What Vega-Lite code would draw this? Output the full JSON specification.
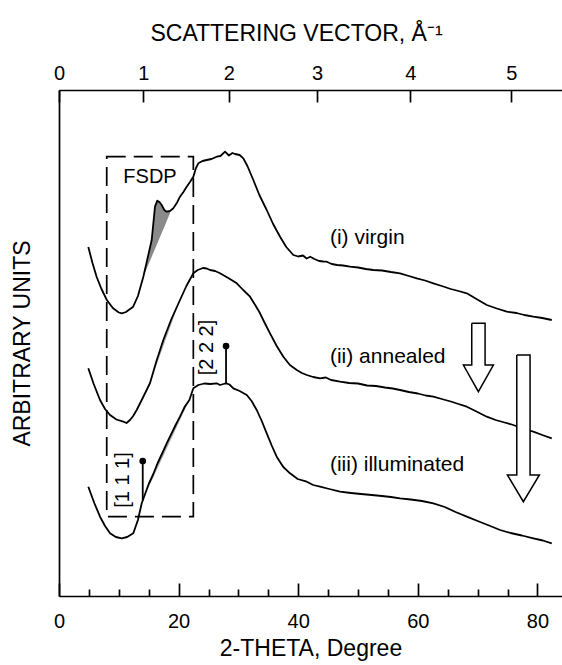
{
  "$schema": "https://vega.github.io/schema/vega-lite/v6.json",
  "width": 503,
  "height": 506,
  "autosize": {"type": "none"},
  "padding": {"left": 59, "top": 90, "right": 0, "bottom": 69},
  "background": "white",
  "config": {
    "view": {"stroke": null},
    "font": "Liberation Sans",
    "axis": {
      "domainColor": "black", "tickColor": "black", "labelColor": "black", "titleColor": "black",
      "labelFont": "Liberation Sans", "titleFont": "Liberation Sans",
      "labelFontSize": 20, "titleFontSize": 23, "titleFontWeight": "normal",
      "grid": false, "domainWidth": 1.7, "tickWidth": 1.7, "labelFlush": false, "labelOverlap": false
    }
  },
  "datasets": {
    "curves": [
      {"s":"i","x":4.9,"y":349},{"s":"i","x":5.6,"y":333},{"s":"i","x":6.3,"y":319},{"s":"i","x":7.1,"y":307},{"s":"i","x":8.0,"y":296},{"s":"i","x":9.0,"y":288},{"s":"i","x":10.0,"y":283.5},{"s":"i","x":10.5,"y":282.7},{"s":"i","x":11.2,"y":284},{"s":"i","x":12.4,"y":289.3},{"s":"i","x":13.2,"y":300},{"s":"i","x":14.1,"y":319.3},{"s":"i","x":14.8,"y":337.6},{"s":"i","x":15.5,"y":356},{"s":"i","x":16.05,"y":389.3},{"s":"i","x":16.44,"y":395.3},{"s":"i","x":16.8,"y":394},{"s":"i","x":17.17,"y":391},{"s":"i","x":17.6,"y":386},{"s":"i","x":18.01,"y":384.3},{"s":"i","x":18.56,"y":385},{"s":"i","x":19.11,"y":387.7},{"s":"i","x":19.7,"y":393},{"s":"i","x":20.23,"y":399.3},{"s":"i","x":20.8,"y":404},{"s":"i","x":21.35,"y":409.3},{"s":"i","x":21.9,"y":414},{"s":"i","x":22.46,"y":419.3},{"s":"i","x":22.9,"y":428},{"s":"i","x":23.29,"y":432.7},{"s":"i","x":24.0,"y":435},{"s":"i","x":24.7,"y":436},{"s":"i","x":25.5,"y":437},{"s":"i","x":26.37,"y":439.3},{"s":"i","x":27.0,"y":440},{"s":"i","x":27.76,"y":444.3},{"s":"i","x":28.4,"y":440.5},{"s":"i","x":29.0,"y":443},{"s":"i","x":29.43,"y":442},{"s":"i","x":30.2,"y":441},{"s":"i","x":30.82,"y":437.7},{"s":"i","x":31.5,"y":430},{"s":"i","x":32.49,"y":416},{"s":"i","x":33.5,"y":401},{"s":"i","x":34.73,"y":386},{"s":"i","x":35.8,"y":372},{"s":"i","x":36.96,"y":359.3},{"s":"i","x":38.0,"y":349},{"s":"i","x":39.18,"y":341},{"s":"i","x":40.0,"y":339.5},{"s":"i","x":40.8,"y":340.5},{"s":"i","x":41.4,"y":337.5},{"s":"i","x":42.0,"y":339.3},{"s":"i","x":42.7,"y":337},{"s":"i","x":43.5,"y":335},{"s":"i","x":44.2,"y":334.5},{"s":"i","x":44.77,"y":334.3},{"s":"i","x":45.6,"y":332},{"s":"i","x":46.5,"y":331},{"s":"i","x":47.5,"y":330.5},{"s":"i","x":48.66,"y":329.3},{"s":"i","x":50.0,"y":328.5},{"s":"i","x":51.3,"y":327},{"s":"i","x":52.56,"y":326},{"s":"i","x":54.0,"y":325.5},{"s":"i","x":55.5,"y":324},{"s":"i","x":57.02,"y":322.7},{"s":"i","x":58.5,"y":320},{"s":"i","x":59.82,"y":317.7},{"s":"i","x":61.2,"y":315.5},{"s":"i","x":62.59,"y":312.7},{"s":"i","x":64.0,"y":310},{"s":"i","x":65.5,"y":307},{"s":"i","x":66.8,"y":305},{"s":"i","x":68.18,"y":302.7},{"s":"i","x":69.8,"y":297},{"s":"i","x":71.52,"y":291},{"s":"i","x":73.2,"y":287.5},{"s":"i","x":74.87,"y":284.3},{"s":"i","x":76.5,"y":283},{"s":"i","x":77.8,"y":281},{"s":"i","x":79.31,"y":279.3},{"s":"i","x":80.8,"y":278},{"s":"i","x":82.39,"y":276},
      {"s":"ii","x":4.9,"y":227.7},{"s":"ii","x":5.8,"y":212},{"s":"ii","x":6.86,"y":196},{"s":"ii","x":7.7,"y":187},{"s":"ii","x":8.53,"y":181},{"s":"ii","x":9.6,"y":176.5},{"s":"ii","x":10.75,"y":174.3},{"s":"ii","x":11.3,"y":173},{"s":"ii","x":11.87,"y":176},{"s":"ii","x":12.4,"y":180},{"s":"ii","x":12.99,"y":186},{"s":"ii","x":14.0,"y":198},{"s":"ii","x":15.22,"y":213},{"s":"ii","x":16.3,"y":235},{"s":"ii","x":17.44,"y":256},{"s":"ii","x":18.8,"y":277},{"s":"ii","x":20.23,"y":296},{"s":"ii","x":21.3,"y":310},{"s":"ii","x":22.46,"y":322.7},{"s":"ii","x":23.2,"y":326},{"s":"ii","x":24.08,"y":328},{"s":"ii","x":24.7,"y":327.5},{"s":"ii","x":25.25,"y":326},{"s":"ii","x":26.1,"y":325},{"s":"ii","x":26.92,"y":322.7},{"s":"ii","x":28.3,"y":318},{"s":"ii","x":29.72,"y":312.7},{"s":"ii","x":30.8,"y":306},{"s":"ii","x":31.94,"y":299.3},{"s":"ii","x":32.8,"y":291},{"s":"ii","x":33.61,"y":282.7},{"s":"ii","x":34.4,"y":273},{"s":"ii","x":35.28,"y":262.7},{"s":"ii","x":36.4,"y":250},{"s":"ii","x":37.51,"y":239.3},{"s":"ii","x":38.6,"y":231},{"s":"ii","x":39.75,"y":226},{"s":"ii","x":40.6,"y":223},{"s":"ii","x":41.42,"y":221},{"s":"ii","x":42.5,"y":219},{"s":"ii","x":43.65,"y":217.7},{"s":"ii","x":44.6,"y":218.5},{"s":"ii","x":45.5,"y":216},{"s":"ii","x":46.99,"y":214.3},{"s":"ii","x":48.5,"y":213},{"s":"ii","x":50.0,"y":212.5},{"s":"ii","x":51.5,"y":210.5},{"s":"ii","x":53.0,"y":210},{"s":"ii","x":54.5,"y":208.5},{"s":"ii","x":55.8,"y":207.5},{"s":"ii","x":57.02,"y":206},{"s":"ii","x":58.5,"y":204},{"s":"ii","x":60.0,"y":202.5},{"s":"ii","x":61.3,"y":200.5},{"s":"ii","x":62.59,"y":199.3},{"s":"ii","x":64.0,"y":197},{"s":"ii","x":65.5,"y":194.5},{"s":"ii","x":66.8,"y":192},{"s":"ii","x":68.18,"y":189.3},{"s":"ii","x":69.8,"y":184.5},{"s":"ii","x":71.52,"y":179.3},{"s":"ii","x":73.0,"y":176},{"s":"ii","x":74.5,"y":173.5},{"s":"ii","x":75.97,"y":171},{"s":"ii","x":77.6,"y":167},{"s":"ii","x":79.31,"y":164.3},{"s":"ii","x":80.8,"y":161},{"s":"ii","x":82.39,"y":157.7},
      {"s":"iii","x":4.9,"y":109.3},{"s":"iii","x":5.9,"y":93},{"s":"iii","x":6.86,"y":79.3},{"s":"iii","x":7.7,"y":70},{"s":"iii","x":8.53,"y":62.7},{"s":"iii","x":9.5,"y":59},{"s":"iii","x":10.49,"y":57.7},{"s":"iii","x":11.4,"y":59},{"s":"iii","x":12.42,"y":62.7},{"s":"iii","x":13.2,"y":76},{"s":"iii","x":13.83,"y":92.7},{"s":"iii","x":14.3,"y":100.5},{"s":"iii","x":15.0,"y":112},{"s":"iii","x":15.77,"y":122},{"s":"iii","x":16.5,"y":133},{"s":"iii","x":17.2,"y":142},{"s":"iii","x":18.01,"y":152.7},{"s":"iii","x":19.5,"y":171},{"s":"iii","x":20.23,"y":179.3},{"s":"iii","x":21.0,"y":189},{"s":"iii","x":21.8,"y":196},{"s":"iii","x":22.46,"y":207.7},{"s":"iii","x":23.3,"y":211},{"s":"iii","x":24.3,"y":212.5},{"s":"iii","x":25.3,"y":212},{"s":"iii","x":26.37,"y":212.7},{"s":"iii","x":26.92,"y":211},{"s":"iii","x":27.5,"y":212},{"s":"iii","x":27.93,"y":212.7},{"s":"iii","x":28.5,"y":211.5},{"s":"iii","x":29.15,"y":207.7},{"s":"iii","x":30.2,"y":205},{"s":"iii","x":31.39,"y":201},{"s":"iii","x":32.2,"y":195},{"s":"iii","x":33.06,"y":186},{"s":"iii","x":33.9,"y":175},{"s":"iii","x":34.73,"y":162.7},{"s":"iii","x":35.6,"y":150},{"s":"iii","x":36.4,"y":139.3},{"s":"iii","x":37.5,"y":129},{"s":"iii","x":38.63,"y":122.7},{"s":"iii","x":39.9,"y":117},{"s":"iii","x":41.42,"y":114.3},{"s":"iii","x":42.5,"y":111},{"s":"iii","x":43.65,"y":109.3},{"s":"iii","x":45.2,"y":107},{"s":"iii","x":46.99,"y":104.3},{"s":"iii","x":48.8,"y":103},{"s":"iii","x":50.5,"y":102},{"s":"iii","x":52.3,"y":101},{"s":"iii","x":54.0,"y":100},{"s":"iii","x":55.5,"y":99},{"s":"iii","x":57.02,"y":97.7},{"s":"iii","x":58.8,"y":96.5},{"s":"iii","x":60.7,"y":95},{"s":"iii","x":62.59,"y":92.7},{"s":"iii","x":64.5,"y":89},{"s":"iii","x":66.3,"y":84},{"s":"iii","x":68.18,"y":79.3},{"s":"iii","x":70.0,"y":75},{"s":"iii","x":71.9,"y":70.5},{"s":"iii","x":73.75,"y":66},{"s":"iii","x":75.5,"y":63},{"s":"iii","x":77.4,"y":60.5},{"s":"iii","x":79.31,"y":57.7},{"s":"iii","x":80.9,"y":55.5},{"s":"iii","x":82.39,"y":52.7}
    ],
    "shade": [
      {"s":"i","x":14.1,"y":319.3,"y2":319.3},{"s":"i","x":14.8,"y":337.6,"y2":329.3},{"s":"i","x":15.5,"y":356,"y2":339.2},{"s":"i","x":16.05,"y":389.3,"y2":347.0},{"s":"i","x":16.44,"y":395.3,"y2":352.6},{"s":"i","x":16.8,"y":394,"y2":357.7},{"s":"i","x":17.17,"y":391,"y2":362.9},{"s":"i","x":17.6,"y":386,"y2":369.0},{"s":"i","x":18.01,"y":384.3,"y2":374.9},{"s":"i","x":18.56,"y":385,"y2":382.7},
      {"s":"ii","x":15.22,"y":213,"y2":213},{"s":"ii","x":16.3,"y":235,"y2":230.9},{"s":"ii","x":17.44,"y":256,"y2":249.8},{"s":"ii","x":18.8,"y":277,"y2":272.3},{"s":"ii","x":20.23,"y":296,"y2":296},
      {"s":"iii","x":14.3,"y":100.5,"y2":100},{"s":"iii","x":15.0,"y":112,"y2":109},{"s":"iii","x":15.77,"y":122,"y2":118.8},{"s":"iii","x":16.5,"y":133,"y2":128.2},{"s":"iii","x":17.2,"y":142,"y2":137.1},{"s":"iii","x":18.01,"y":152.7,"y2":147.5},{"s":"iii","x":19.5,"y":171,"y2":166.6},{"s":"iii","x":20.23,"y":179.3,"y2":176.0},{"s":"iii","x":21.0,"y":189,"y2":185.8},{"s":"iii","x":21.8,"y":196,"y2":196}
    ],
    "box": [{"x":7.98,"x2":22.46,"y":79.3,"y2":439.3}],
    "peaks": [{"x":14.0,"y":95.5,"y2":135},{"x":27.93,"y":212.7,"y2":250}],
    "shafts": [{"x":69.01,"x2":71.24,"y":231,"y2":272.7},{"x":76.54,"x2":78.76,"y":121,"y2":241}],
    "arrows": [
      {"a":1,"i":0,"x":69.01,"y":272.7},{"a":1,"i":1,"x":71.24,"y":272.7},{"a":1,"i":2,"x":71.24,"y":231},{"a":1,"i":3,"x":72.63,"y":231},{"a":1,"i":4,"x":70.12,"y":204.3},{"a":1,"i":5,"x":67.61,"y":231},{"a":1,"i":6,"x":69.01,"y":231},{"a":1,"i":7,"x":69.01,"y":272.7},
      {"a":2,"i":0,"x":76.54,"y":241},{"a":2,"i":1,"x":78.76,"y":241},{"a":2,"i":2,"x":78.76,"y":121},{"a":2,"i":3,"x":80.32,"y":121},{"a":2,"i":4,"x":77.64,"y":94.3},{"a":2,"i":5,"x":74.97,"y":121},{"a":2,"i":6,"x":76.54,"y":121},{"a":2,"i":7,"x":76.54,"y":241}
    ],
    "labels": [{"t":"(i) virgin","x":45.3,"y":358},{"t":"(ii) annealed","x":45.3,"y":239},{"t":"(iii) illuminated","x":45.3,"y":131}],
    "fsdp": [{"t":"FSDP","x":15.22,"y":419}],
    "miller": [{"t":"[1 1 1]","x":10.75,"y":116},{"t":"[2 2 2]","x":24.7,"y":248.5}]
  },
  "resolve": {"axis": {"x": "independent", "y": "independent"}},
  "layer": [
    {
      "data": {"name": "shade"},
      "mark": {"type": "area", "opacity": 1},
      "encoding": {
        "x": {"field": "x", "type": "quantitative", "scale": {"domain": [0, 84.1], "nice": false, "zero": false}, "axis": null},
        "y": {"field": "y", "type": "quantitative", "scale": {"domain": [0, 506], "nice": false, "zero": false}, "axis": null},
        "y2": {"field": "y2"},
        "color": {"field": "s", "type": "nominal", "scale": {"domain": ["i","ii","iii"], "range": ["#8a8a8a","#a8a8a8","#a8a8a8"]}, "legend": null}
      }
    },
    {
      "data": {"name": "curves"},
      "mark": {"type": "line", "color": "black", "strokeWidth": 1.8, "strokeJoin": "round"},
      "encoding": {
        "x": {"field": "x", "type": "quantitative", "scale": {"domain": [0, 84.1], "nice": false, "zero": false},
              "axis": {"orient": "bottom", "values": [0,20,40,60,80], "format": "d", "tickSize": -13, "labelPadding": 28, "title": "2-THETA, Degree", "titlePadding": 6}},
        "y": {"field": "y", "type": "quantitative", "scale": {"domain": [0, 506], "nice": false, "zero": false},
              "axis": {"orient": "left", "ticks": false, "labels": false, "title": "ARBITRARY UNITS", "titlePadding": 25}},
        "detail": {"field": "s"}
      }
    },
    {
      "data": {"name": "box"},
      "mark": {"type": "rect", "fill": null, "fillOpacity": 0, "stroke": "black", "strokeWidth": 1.7, "strokeDash": [19, 8]},
      "encoding": {
        "x": {"field": "x", "type": "quantitative", "scale": {"domain": [0, 84.1], "nice": false, "zero": false},
              "axis": {"orient": "top", "values": [0,14.08,28.39,43.16,58.73,75.62], "labelExpr": "format(round(4*PI*sin(datum.value*PI/360)/1.5406), 'd')", "tickSize": -12, "labelPadding": 19, "title": "SCATTERING VECTOR, Å⁻¹", "titlePadding": 18, "titleX": 237}},
        "x2": {"field": "x2"},
        "y": {"field": "y", "type": "quantitative", "scale": {"domain": [0, 506], "nice": false, "zero": false}, "axis": null},
        "y2": {"field": "y2"}
      }
    },
    {
      "data": {"name": "peaks"},
      "mark": {"type": "rule", "color": "black", "strokeWidth": 1.8},
      "encoding": {
        "x": {"field": "x", "type": "quantitative", "scale": {"domain": [0, 84.1], "nice": false, "zero": false},
              "axis": {"orient": "bottom", "values": [5,10,15,25,30,35,45,50,55,65,70,75], "tickSize": -7, "labels": false, "domain": false, "title": null}},
        "y": {"field": "y", "type": "quantitative", "scale": {"domain": [0, 506], "nice": false, "zero": false}, "axis": null},
        "y2": {"field": "y2"}
      }
    },
    {
      "data": {"name": "peaks"},
      "mark": {"type": "point", "filled": true, "color": "black", "size": 45, "opacity": 1},
      "encoding": {
        "x": {"field": "x", "type": "quantitative", "scale": {"domain": [0, 84.1], "nice": false, "zero": false}, "axis": null},
        "y": {"field": "y2", "type": "quantitative", "scale": {"domain": [0, 506], "nice": false, "zero": false}, "axis": null}
      }
    },
    {
      "data": {"name": "shafts"},
      "mark": {"type": "rect", "fill": "white"},
      "encoding": {
        "x": {"field": "x", "type": "quantitative", "scale": {"domain": [0, 84.1], "nice": false, "zero": false}, "axis": null},
        "x2": {"field": "x2"},
        "y": {"field": "y", "type": "quantitative", "scale": {"domain": [0, 506], "nice": false, "zero": false}, "axis": null},
        "y2": {"field": "y2"}
      }
    },
    {
      "data": {"name": "arrows"},
      "mark": {"type": "line", "color": "black", "strokeWidth": 1.5, "strokeJoin": "miter"},
      "encoding": {
        "x": {"field": "x", "type": "quantitative", "scale": {"domain": [0, 84.1], "nice": false, "zero": false}, "axis": null},
        "y": {"field": "y", "type": "quantitative", "scale": {"domain": [0, 506], "nice": false, "zero": false}, "axis": null},
        "detail": {"field": "a"},
        "order": {"field": "i", "type": "quantitative"}
      }
    },
    {
      "data": {"name": "labels"},
      "mark": {"type": "text", "align": "left", "baseline": "middle", "fontSize": 21, "font": "Liberation Sans", "color": "black"},
      "encoding": {
        "x": {"field": "x", "type": "quantitative", "scale": {"domain": [0, 84.1], "nice": false, "zero": false}, "axis": null},
        "y": {"field": "y", "type": "quantitative", "scale": {"domain": [0, 506], "nice": false, "zero": false}, "axis": null},
        "text": {"field": "t"}
      }
    },
    {
      "data": {"name": "fsdp"},
      "mark": {"type": "text", "align": "center", "baseline": "middle", "fontSize": 20, "font": "Liberation Sans", "color": "black"},
      "encoding": {
        "x": {"field": "x", "type": "quantitative", "scale": {"domain": [0, 84.1], "nice": false, "zero": false}, "axis": null},
        "y": {"field": "y", "type": "quantitative", "scale": {"domain": [0, 506], "nice": false, "zero": false}, "axis": null},
        "text": {"field": "t"}
      }
    },
    {
      "data": {"name": "miller"},
      "mark": {"type": "text", "align": "center", "baseline": "middle", "fontSize": 20, "font": "Liberation Sans", "color": "black", "angle": 270},
      "encoding": {
        "x": {"field": "x", "type": "quantitative", "scale": {"domain": [0, 84.1], "nice": false, "zero": false}, "axis": null},
        "y": {"field": "y", "type": "quantitative", "scale": {"domain": [0, 506], "nice": false, "zero": false}, "axis": null},
        "text": {"field": "t"}
      }
    }
  ]
}
